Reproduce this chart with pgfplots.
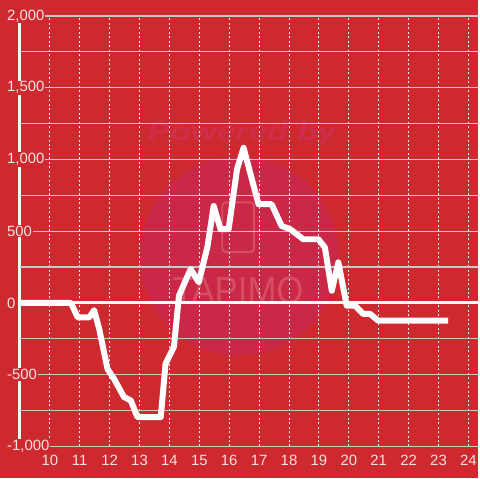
\documentclass[border=0pt]{standalone}
\usepackage{fontspec}
\setmainfont{Liberation Sans}
\usepackage{pgfplots}
\pgfplotsset{compat=1.18}
\definecolor{bg}{RGB}{205,41,46}
\definecolor{wmcircle}{RGB}{201,40,70}
\definecolor{wmtext}{RGB}{207,46,74}
\definecolor{logo}{RGB}{214,78,96}
\definecolor{gridgray}{RGB}{200,200,200}
\definecolor{ticktext}{RGB}{246,226,226}
\begin{document}
\begin{tikzpicture}
\fill[bg] (0,0) rectangle (480bp,480bp);
\fill[wmcircle] (240bp,223bp) circle (100bp);
\node[text=wmtext, font=\bfseries\itshape\fontsize{26}{26}\selectfont, xscale=1.3] at (243bp,346bp) {Powered by};
\draw[logo, line width=2bp, rounded corners=4bp] (223bp,227bp) rectangle (255bp,277bp);
\node[text=logo, font=\fontsize{38}{38}\selectfont, xscale=0.92] at (239bp,189bp) {TAPIMO};
\draw[white!95!gray, line width=3bp] (20bp,32bp) -- (20bp,464bp);
\begin{axis}[
  at={(20bp,32bp)}, anchor=south west,
  scale only axis, width=460bp, height=432bp,
  xmin=9, xmax=24.3333, ymin=-1000, ymax=2000,
  axis line style={draw=none},
  major tick length=0pt, minor tick length=0pt,
  xtick={10,11,...,24},
  xticklabels={10,11,12,13,14,15,16,17,18,19,20,21,22,23,24},
  ytick={-1000,-500,0,500,1000,1500,2000},
  yticklabels={{-1,000},{-500},{0},{500},{1,000},{1,500},{2,000}},
  minor ytick={-750,-250,250,750,1250,1750},
  xmajorgrids, ymajorgrids, yminorgrids,
  major x grid style={draw={white!92!gray}, line width=0.9bp, dash pattern=on 2bp off 2.5bp},
  major y grid style={draw=gridgray, line width=1.3bp},
  minor y grid style={draw=gridgray, line width=1.3bp},
  xticklabel style={font=\fontsize{15}{17}\selectfont, text=ticktext, anchor=base, yshift=-19bp},
  yticklabel style={font=\fontsize{15}{17}\selectfont, text=ticktext, anchor=west, xshift=-14bp, fill=bg, inner sep=1bp},
]
\draw[white!95!gray, line width=3bp] (axis cs:9,0) -- (axis cs:24.3333,0);
\addplot[white, line width=6bp, line join=round, no markers] coordinates {
(9,0) (10.71,0) (10.93,-100) (11.32,-100) (11.48,-50) (11.65,-180) (11.93,-460)
(12.15,-530) (12.48,-655) (12.71,-680) (12.93,-795) (13.71,-795) (13.87,-424)
(14.15,-306) (14.32,51) (14.71,236) (14.98,144) (15.27,390) (15.48,676)
(15.71,514) (15.98,514) (16.26,931) (16.48,1081) (16.98,688) (17.42,688)
(17.75,537) (18.04,514) (18.48,444) (18.98,444) (19.2,387) (19.43,85)
(19.65,283) (19.93,-19) (20.21,-19) (20.48,-76) (20.71,-76) (20.98,-123)
(23.32,-123)
};
\end{axis}
\end{tikzpicture}
\end{document}
